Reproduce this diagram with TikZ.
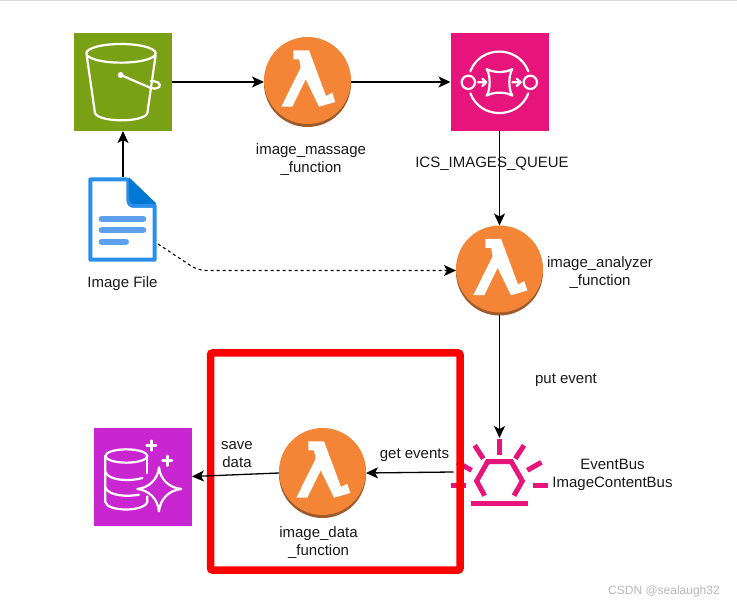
\documentclass[tikz,border=0pt]{standalone}
\usepackage{fontspec}
\setmainfont{Liberation Sans}
\usetikzlibrary{arrows.meta}
\definecolor{sthree}{HTML}{7AA116}
\definecolor{sqsc}{HTML}{E7157B}
\definecolor{dbc}{HTML}{C925D1}
\definecolor{lamo}{HTML}{F58536}
\definecolor{lamd}{HTML}{9D5A2B}
\definecolor{docb}{HTML}{2A8FE8}
\definecolor{docd}{HTML}{0078D4}
\definecolor{docl}{HTML}{5E9FEE}
\tikzset{
  x=1pt,y=-1pt,
  iconbox/.style={minimum size=98pt,inner sep=0pt,outer sep=0pt},
  lamnode/.style={minimum width=87pt,minimum height=90pt,inner sep=0pt,outer sep=0pt},
  link/.style={draw=black,line width=1.3pt,-{Stealth[length=12pt,width=11pt,inset=3pt]}},
  lbl/.style={font=\fontsize{15}{18}\selectfont,text=black!90,align=center,inner sep=0pt},
  iconline/.style={draw=white,line width=2.2pt,line join=round,line cap=round},
  zoomA/.style={shift={(60,20)},x=0.3333pt,y=-0.3333pt},
  zoomB/.style={shift={(450,33)},x=0.3333pt,y=-0.3333pt},
  zoomC/.style={shift={(94,428)},x=0.3333pt,y=-0.3333pt},
  zoomD/.style={shift={(440,420)},x=0.3333pt,y=-0.3333pt},
  pinkline/.style={draw=sqsc,line width=5pt},
}
\newcommand{\lamicon}[3]{%
  \node[lamnode] (#1) at (#2,#3) {};
  \begin{scope}[shift={(#2,#3)}]
    \fill[lamd] (0,1.5) circle[radius=43.5];
    \fill[lamo] (0,-1.5) circle[radius=43.5];
    \fill[white] (-14.2,-31.7) -- (1.5,-31.7) -- (18.5,14) -- (24.8,10.7) -- (27.8,20) -- (11.5,24.7) -- (-1.8,-2.7) -- (-15.2,24.7) -- (-26.2,24.7) -- (-6.8,-14.3) -- (-8.5,-22.7) -- (-14.2,-22.7) -- cycle;
  \end{scope}}
\begin{document}
\begin{tikzpicture}
\useasboundingbox (0,0) rectangle (737,604);
\fill[white] (0,0) rectangle (737,604);
\draw[black!15,line width=1pt] (0,0.5) -- (737,0.5);

% S3
\node[iconbox,fill=sthree] (bucket) at (123,82) {};
\begin{scope}[zoomA]
  \draw[iconline] (183,100) ellipse[x radius=104,y radius=28];
  \draw[iconline] (80,105) -- (105,280) .. controls (120,308) and (250,308) .. (262,280) -- (287,105);
  \fill[white] (182,165) circle[radius=9];
  \draw[iconline] (182,165) -- (270,203) .. controls (300,212) and (305,195) .. (295,188) .. controls (288,184) and (278,183) .. (272,183);
\end{scope}

% Document
\node[minimum width=69pt,minimum height=85pt,inner sep=0pt,outer sep=0pt] (doc) at (123,219.5) {};
\begin{scope}[zoomA]
  \fill[docb,rounded corners=2pt] (85,472) -- (205,472) -- (290,552) -- (290,725) -- (85,725) -- cycle;
  \fill[white] (97,484) -- (199,484) -- (199,540) .. controls (199,555) and (208,564) .. (222,564) -- (278,564) -- (278,713) -- (97,713) -- cycle;
  \fill[docd] (207,472) -- (290,552) -- (225,552) .. controls (213,552) and (207,544) .. (207,532) -- cycle;
  \draw[docl,line width=6pt,line cap=round] (125,597) -- (250,597) (125,631) -- (250,631) (125,665) -- (198,665);
\end{scope}

% SQS
\node[iconbox,fill=sqsc] (queue) at (499.5,82) {};
\begin{scope}[zoomB]
  \draw[iconline] (61,115) .. controls (91,36) and (205,36) .. (235,115);
  \draw[iconline] (61,181) .. controls (91,260) and (205,260) .. (235,181);
  \draw[iconline] (55,148) circle[radius=20];
  \draw[iconline] (241,148) circle[radius=20];
  \draw[iconline] (110,108) .. controls (130,120) and (167,120) .. (187,108) .. controls (175,128) and (175,168) .. (187,188) .. controls (167,176) and (130,176) .. (110,188) .. controls (122,168) and (122,128) .. (110,108) -- cycle;
  \draw[iconline] (84,148) -- (108,148) (97,137) -- (109,148) -- (97,159);
  \draw[iconline] (187,148) -- (211,148) (200,137) -- (212,148) -- (200,159);
\end{scope}

% Lambdas
\lamicon{lamA}{307.5}{82}
\lamicon{lamB}{499.5}{270.5}
\lamicon{lamC}{322.5}{473}

% Database
\node[iconbox,fill=dbc] (db) at (143,476.5) {};
\begin{scope}[zoomC]
  \draw[iconline] (97,84) ellipse[x radius=63,y radius=20];
  \draw[iconline] (34,84) -- (34,222) .. controls (40,252) and (150,252) .. (160,222) -- (160,205);
  \draw[iconline] (160,84) -- (160,135);
  \draw[iconline] (34,132) .. controls (44,160) and (115,160) .. (145,150);
  \draw[iconline] (34,178) .. controls (44,206) and (105,206) .. (135,200);
  \draw[iconline] (195,118) .. controls (199,155) and (225,179) .. (262,183) .. controls (225,187) and (199,212) .. (195,250) .. controls (191,212) and (165,187) .. (130,183) .. controls (165,179) and (191,155) .. (195,118) -- cycle;
  \draw[iconline,line width=2.8pt] (172,38) -- (172,67) (158,52) -- (186,52);
  \draw[iconline,line width=2.8pt] (220,84) -- (220,113) (206,98) -- (234,98);
\end{scope}

% EventBridge icon
\node[minimum width=92pt,minimum height=68pt,inner sep=0pt,outer sep=0pt] (bus) at (499.5,472) {};
\begin{scope}[zoomD]
  \draw[pinkline,line join=miter] (134,227) -- (110,183) -- (143,125) -- (214,125) -- (247,183) -- (222,227);
  \draw[pinkline] (92,250) -- (264,250);
  \draw[pinkline] (178,58) -- (178,104);
  \draw[pinkline] (104,76) -- (130,116);
  \draw[pinkline] (252,76) -- (226,116);
  \draw[pinkline] (304,127) -- (262,151);
  \draw[pinkline] (52,127) -- (95,151);
  \draw[pinkline] (32,197) -- (78,197);
  \draw[pinkline] (278,197) -- (324,197);
\end{scope}

% Red frame
\node[draw=red,line width=7.5pt,rounded corners=2pt,minimum width=249.5pt,minimum height=217pt,inner sep=0pt] (frame) at (335.25,461.5) {};

% Connectors
\draw[link] (doc.north) -- (bucket.south);
\draw[link] (bucket.east) -- (lamA.west);
\draw[link] (lamA.east) -- (queue.west);
\draw[link] (queue.south) -- (lamB.north);
\coordinate (bend) at (198,270.5);
\coordinate (docexit) at (158,244);
\draw[link,dashed,line width=1.1pt,rounded corners=8pt] (docexit) -- (bend) -- (lamB.west);
\draw[link] (lamB.south) -- (bus.north);
\draw[link] (bus.west) -- (lamC.east);
\draw[link] (lamC.west) -- (db.east);

% Labels
\node[lbl] (tA) at (311,159.5) {image\_massage\\\_function};
\node[lbl] (tQ) at (492,164) {ICS\_IMAGES\_QUEUE};
\node[lbl] (tB) at (600,273) {image\_analyzer\\\_function};
\node[lbl] (tF) at (122.5,284) {Image File};
\node[lbl] (tP) at (566,380) {put event};
\node[lbl] (tG) at (414.5,455) {get events};
\node[lbl] (tS) at (237,455) {save\\data};
\node[lbl] (tC) at (318.5,543) {image\_data\\\_function};
\node[lbl] (tE) at (612.5,475) {EventBus\\ImageContentBus};
\node[font=\fontsize{12}{14}\selectfont,text=black!28,inner sep=0pt] (wm) at (664,591) {CSDN @sealaugh32};
\end{tikzpicture}
\end{document}
